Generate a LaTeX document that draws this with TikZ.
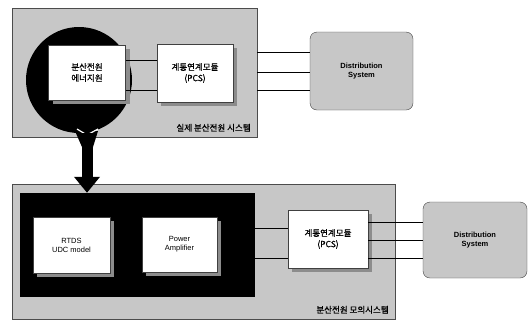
\documentclass[tikz,border=0pt]{standalone}
\usepackage{fontspec}
\setmainfont{Liberation Sans}
\newfontfamily\krfont[FakeBold=0.8]{Noto Sans CJK KR}
\usetikzlibrary{arrows.meta,shadows}

\tikzset{
  panel/.style={draw=black!70,fill=black!22,inner sep=0pt},
  modbox/.style={draw=black!75,fill=white,inner sep=0pt,align=center,
    drop shadow={shadow xshift=4pt,shadow yshift=-4pt,fill=black!45,opacity=1}},
  netbox/.style={draw=black!75,fill=black!22,rounded corners=7pt,inner sep=0pt,align=center},
  krtext/.style={font=\krfont\fontsize{8.5}{11}\selectfont},
  entext/.style={font=\fontsize{7.5}{9}\selectfont},
  wire/.style={draw=black,line width=0.8pt}
}

\begin{document}
\begin{tikzpicture}[>=stealth,x=1pt,y=-1pt]

\useasboundingbox (0,0) rectangle (529,325);

%=== Upper part: real DG system ===
\node[panel,minimum width=245,minimum height=129] (realsys) at (134.5,72.5) {};
\node[krtext,anchor=south east] (reallbl) at ([xshift=-3,yshift=2]realsys.south east)
  {실제 분산전원 시스템};

% lens with handle
\node[circle,fill=black,inner sep=0pt,minimum size=106] (lens) at (79,80) {};
\fill[black] (75,131) -- (98,131) -- (93,147) -- (82,147) -- cycle;
\draw[white,line width=1.2pt] (77,129) -- (87,135) -- (98,129);

\node[modbox,krtext,minimum width=77,minimum height=55] (srcA) at (87,72.5)
  {분산전원\\에너지원};
\node[modbox,krtext,minimum width=76,minimum height=58] (pcsA) at (195,73)
  {계통연계모듈\\(PCS)};
\node[netbox,font=\bfseries\fontsize{7.5}{9}\selectfont,
  minimum width=103,minimum height=78] (distA) at (361.5,71)
  {Distribution\\System};

\draw[wire] ([yshift=12.5]srcA.east) -- ([yshift=12.5]srcA.east -| pcsA.west);
\draw[wire] ([yshift=-17.5]srcA.east) -- ([yshift=-17.5]srcA.east -| pcsA.west);
\foreach \dy in {21,1,-17}
  \draw[wire] ([yshift=\dy]pcsA.east -| realsys.east) -- ([yshift=\dy]pcsA.east -| distA.west);

%=== Lower part: DG simulator ===
\node[panel,minimum width=383,minimum height=135] (simsys) at (203.5,251.5) {};
\node[krtext,anchor=south east] (simlbl) at ([xshift=-3,yshift=2]simsys.south east)
  {분산전원 모의시스템};

\node[fill=black,inner sep=0pt,minimum width=235,minimum height=104] (simbox) at (137.5,245) {};

\node[modbox,entext,minimum width=77,minimum height=56] (rtds) at (71.5,245)
  {RTDS\\UDC model};
\node[modbox,entext,minimum width=75,minimum height=55] (amp) at (179.5,244.5)
  {Power\\Amplifier};
\node[modbox,krtext,minimum width=80,minimum height=58] (pcsB) at (328,239)
  {계통연계모듈\\(PCS)};
\node[netbox,font=\bfseries\fontsize{7.5}{9}\selectfont,
  minimum width=104,minimum height=76] (distB) at (475,240)
  {Distribution\\System};

\foreach \dy in {16.5,-13.5}
  \draw[wire] ([yshift=\dy]amp.east -| simbox.east) -- ([yshift=\dy]amp.east -| pcsB.west);
\foreach \dy in {17,-1,-19}
  \draw[wire] ([yshift=\dy]pcsB.east) -- ([yshift=\dy]pcsB.east -| distB.west);

% arrow from lens down to simulator
\draw[-{Triangle[width=25pt,length=16pt]},line width=11pt]
  ([xshift=8]lens.south) -- ([xshift=8]lens.south |- simbox.north);

\end{tikzpicture}
\end{document}
